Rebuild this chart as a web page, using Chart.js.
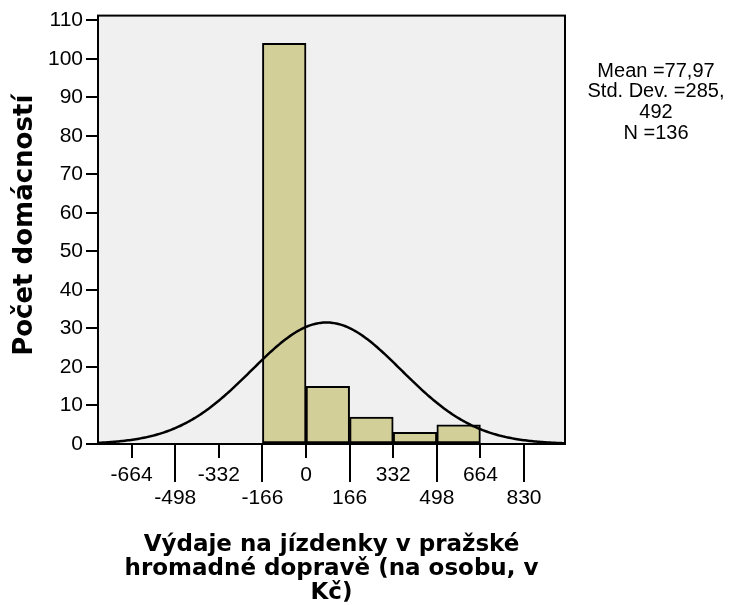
<!DOCTYPE html>
<html>
<head>
<meta charset="utf-8">
<script src="https://cdn.jsdelivr.net/npm/chart.js@4.4.0/dist/chart.umd.min.js"></script>
<style>
  html, body { margin: 0; padding: 0; background: #fff; }
</style>
</head>
<body>
<canvas id="histChart" width="731" height="605"></canvas>
<script>
// histogram bins (centre of each 166 Kč bin) and counts
const binCenters = [-83, 83, 249, 415, 581];
const counts = [104, 15, 7, 3, 5];
const xTicks = [-664, -498, -332, -166, 0, 166, 332, 498, 664, 830];
const yTicks = [0, 10, 20, 30, 40, 50, 60, 70, 80, 90, 100, 110];
const statsLines = ['Mean =77,97', 'Std. Dev. =285,', '492', 'N =136'];
const mean = 77.97;
const stdDev = 285.492;
const n = 136;
const binWidth = 166;

// normal curve fitted from the stats shown next to the chart
const normalCurve = [];
for (let x = -792; x <= 986; x += 6) {
  const z = (x - mean) / stdDev;
  normalCurve.push({ x: x, y: n * binWidth * Math.exp(-0.5 * z * z) / (stdDev * Math.sqrt(2 * Math.PI)) });
}

const frame = {
  id: 'frame',
  beforeDraw(chart) {
    const a = chart.chartArea, ctx = chart.ctx;
    ctx.save();
    ctx.fillStyle = '#f0f0f0';
    ctx.fillRect(a.left, a.top, a.right - a.left, a.bottom - a.top);
    ctx.restore();
  },
  afterDraw(chart) {
    const a = chart.chartArea, ctx = chart.ctx;
    const xs = chart.scales.x;
    ctx.save();
    ctx.strokeStyle = '#000';
    ctx.lineWidth = 2;
    ctx.strokeRect(a.left, a.top, a.right - a.left, a.bottom - a.top);
    // longer ticks under the lower row of labels
    xTicks.forEach(function(v, i) {
      if (i % 2 === 1) {
        const px = Math.round(xs.getPixelForValue(v));
        ctx.beginPath();
        ctx.moveTo(px, a.bottom);
        ctx.lineTo(px, a.bottom + 38);
        ctx.stroke();
      }
    });
    ctx.fillStyle = '#000';
    ctx.font = '20px Arial, "Liberation Sans", sans-serif';
    ctx.textAlign = 'center';
    ctx.textBaseline = 'middle';
    statsLines.forEach(function(t, i) {
      ctx.fillText(t, 656, 71 + i * 20.7);
    });
    ctx.restore();
  }
};

const ctx = document.getElementById('histChart').getContext('2d');
new Chart(ctx, {
  type: 'bar',
  data: {
    datasets: [
      {
        type: 'line',
        data: normalCurve,
        borderColor: '#000',
        borderWidth: 2.5,
        pointRadius: 0,
        tension: 0,
        order: 0
      },
      {
        type: 'bar',
        data: binCenters.map(function(c, i) { return { x: c, y: counts[i] }; }),
        backgroundColor: '#d3cf99',
        borderColor: '#000',
        borderWidth: 2,
        borderSkipped: false,
        barPercentage: 1,
        categoryPercentage: 1,
        order: 1
      }
    ]
  },
  options: {
    responsive: false,
    animation: false,
    layout: { padding: { top: 15, right: 166, left: 0, bottom: 0 } },
    plugins: {
      legend: { display: false },
      tooltip: { enabled: false }
    },
    scales: {
      x: {
        type: 'linear',
        min: -792,
        max: 986,
        offset: false,
        afterBuildTicks: function(scale) { scale.ticks = xTicks.map(function(v) { return { value: v }; }); },
        afterFit: function(scale) { scale.height = 161; },
        grid: { offset: false, drawOnChartArea: false, drawTicks: true, tickLength: 14, color: '#000', lineWidth: 2 },
        border: { display: false },
        ticks: {
          color: '#000',
          padding: 5,
          maxRotation: 0,
          autoSkip: false,
          font: { family: 'Arial, "Liberation Sans", sans-serif', size: 21, lineHeight: 1.12 },
          callback: function(v, i) { return i % 2 === 0 ? String(v) : ['', String(v)]; }
        },
        title: {
          display: true,
          text: ['Výdaje na jízdenky v pražské', 'hromadné dopravě (na osobu, v', 'Kč)'],
          color: '#000',
          padding: { top: 0, bottom: 0 },
          font: { family: '"DejaVu Sans", sans-serif', size: 23, weight: 'bold', lineHeight: 1.05 }
        }
      },
      y: {
        min: 0,
        max: 111.2,
        afterBuildTicks: function(scale) { scale.ticks = yTicks.map(function(v) { return { value: v }; }); },
        afterFit: function(scale) { scale.width = 98; },
        grid: { drawOnChartArea: false, drawTicks: true, tickLength: 12, color: '#000', lineWidth: 2 },
        border: { display: false },
        ticks: {
          color: '#000',
          padding: 3,
          font: { family: 'Arial, "Liberation Sans", sans-serif', size: 21 }
        },
        title: {
          display: true,
          text: ' Počet domácností',
          color: '#000',
          padding: { top: 12, bottom: 0 },
          font: { family: '"DejaVu Sans", sans-serif', size: 26, weight: 'bold', lineHeight: 1 }
        }
      }
    }
  },
  plugins: [frame]
});
</script>
</body>
</html>
